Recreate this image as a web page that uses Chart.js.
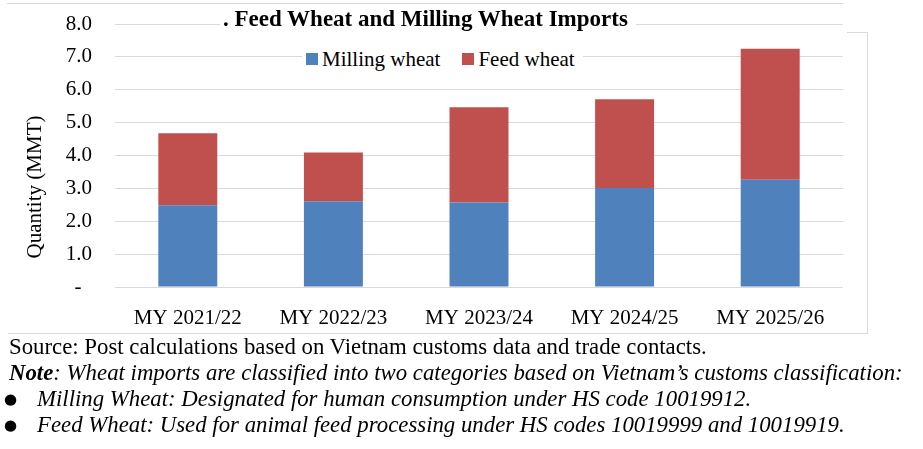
<!DOCTYPE html>
<html>
<head>
<meta charset="utf-8">
<title>Feed Wheat and Milling Wheat Imports</title>
<script src="https://cdn.jsdelivr.net/npm/chart.js@4.4.1/dist/chart.umd.min.js"></script>
<style>
  html, body { margin: 0; padding: 0; background: #fff; }
  body { width: 923px; height: 449px; position: relative; overflow: hidden; font-family: "Liberation Serif", "Times New Roman", serif; color: #000; }
  #chartBox { position: absolute; left: 0; top: 0; width: 923px; height: 336px; }
  .frame { position: absolute; background: #d9d9d9; }
  #title { position: absolute; left: 220px; top: 7px; padding: 0 8px 0 3px; background: #fff; font-size: 23px; line-height: 23px; font-weight: bold; white-space: nowrap; }
  #legend { position: absolute; left: 302px; top: 47px; padding: 0 8px 0 4px; background: #fff; font-size: 21px; line-height: 24px; white-space: nowrap; display: flex; align-items: center; }
  #legend .sw { display: inline-block; width: 12px; height: 12px; margin-right: 4px; }
  #legend .item { display: flex; align-items: center; margin-right: 22px; }
  #legend .item:last-child { margin-right: 0; }
  #notes { position: absolute; left: 9px; top: 334px; font-size: 22.8px; line-height: 26px; white-space: nowrap; }
  #notes .it { font-style: italic; }
  #notes .bul { position: relative; padding-left: 28px; }
  #notes .bul::before { content: "\25CF"; position: absolute; left: -5px; top: 0px; font-size: 15px; font-style: normal; font-family: "DejaVu Sans", sans-serif; }
</style>
</head>
<body>
<div class="frame" style="left:7px; top:3px; width:836px; height:1px;"></div>
<div class="frame" style="left:847px; top:32px; width:21px; height:1px;"></div>
<div class="frame" style="left:867px; top:32px; width:1px; height:302px;"></div>
<div class="frame" style="left:8px; top:333px; width:860px; height:1px;"></div>

<div id="chartBox"><canvas id="wheatChart"></canvas></div>

<div id="title">. Feed Wheat and Milling Wheat Imports</div>
<div id="legend"></div>

<div id="notes">
  <div>Source: Post calculations based on Vietnam customs data and trade contacts.</div>
  <div class="it"><b>Note</b>: Wheat imports are classified into two categories based on Vietnam’s customs classification:</div>
  <div class="it bul">Milling Wheat: Designated for human consumption under HS code 10019912.</div>
  <div class="it bul">Feed Wheat: Used for animal feed processing under HS codes 10019999 and 10019919.</div>
</div>

<script>
const categories = ['MY 2021/22', 'MY 2022/23', 'MY 2023/24', 'MY 2024/25', 'MY 2025/26'];
const millingWheat = [2.49, 2.61, 2.57, 3.01, 3.26];
const feedWheat = [2.19, 1.48, 2.90, 2.70, 3.99];
const yTicks = [0, 1, 2, 3, 4, 5, 6, 7, 8];
const yTitle = 'Quantity (MMT)';

const BLUE = '#4f81bd';
const RED = '#c0504d';
const GRID = '#d9d9d9';
const FONT = { family: '"Liberation Serif", "Times New Roman", serif', size: 21 };

const datasets = [
  { label: 'Milling wheat', data: millingWheat, backgroundColor: BLUE },
  { label: 'Feed wheat', data: feedWheat, backgroundColor: RED }
];

// html legend, drawn over the grid with a white background like the original
const legendEl = document.getElementById('legend');
datasets.forEach(ds => {
  legendEl.innerHTML += `<span class="item"><span class="sw" style="background:${ds.backgroundColor}"></span>${ds.label}</span>`;
});

// the axis title sits lower than the plot centre in the original, so draw it by hand
const yTitlePlugin = {
  id: 'yTitle',
  afterDraw(chart) {
    const ctx = chart.ctx;
    ctx.save();
    ctx.translate(35, 187);
    ctx.rotate(-Math.PI / 2);
    ctx.font = `${FONT.size}px ${FONT.family}`;
    ctx.fillStyle = '#000';
    ctx.textAlign = 'center';
    ctx.textBaseline = 'middle';
    ctx.fillText(yTitle, 0, 0);
    ctx.restore();
  }
};

new Chart(document.getElementById('wheatChart'), {
  type: 'bar',
  data: {
    labels: categories,
    datasets: datasets.map(ds => ({ ...ds, categoryPercentage: 1, barPercentage: 0.405, borderWidth: 0 }))
  },
  plugins: [yTitlePlugin],
  options: {
    responsive: true,
    maintainAspectRatio: false,
    animation: false,
    layout: { padding: { left: 0, right: 80, top: 24, bottom: 0 } },
    plugins: {
      legend: { display: false },
      title: { display: false },
      tooltip: { enabled: false }
    },
    scales: {
      x: {
        stacked: true,
        grid: { display: false },
        border: { display: false },
        ticks: { color: '#000', font: FONT, padding: 11, maxRotation: 0 },
        afterFit: (scale) => { scale.height = 49; }
      },
      y: {
        stacked: true,
        min: 0,
        max: 8,
        afterBuildTicks: (scale) => { scale.ticks = yTicks.map(v => ({ value: v })); },
        grid: { color: GRID, lineWidth: 1, drawTicks: false },
        border: { display: false },
        ticks: {
          color: '#000',
          font: FONT,
          padding: 23,
          callback: (v) => v === 0 ? '-  ' : v.toFixed(1)
        },
        afterFit: (scale) => {
          scale.width = 115;
          // tick padding would otherwise push the plot top down
          scale.paddingTop = 11;
          scale.paddingBottom = 11;
        }
      }
    }
  }
});
</script>
</body>
</html>
